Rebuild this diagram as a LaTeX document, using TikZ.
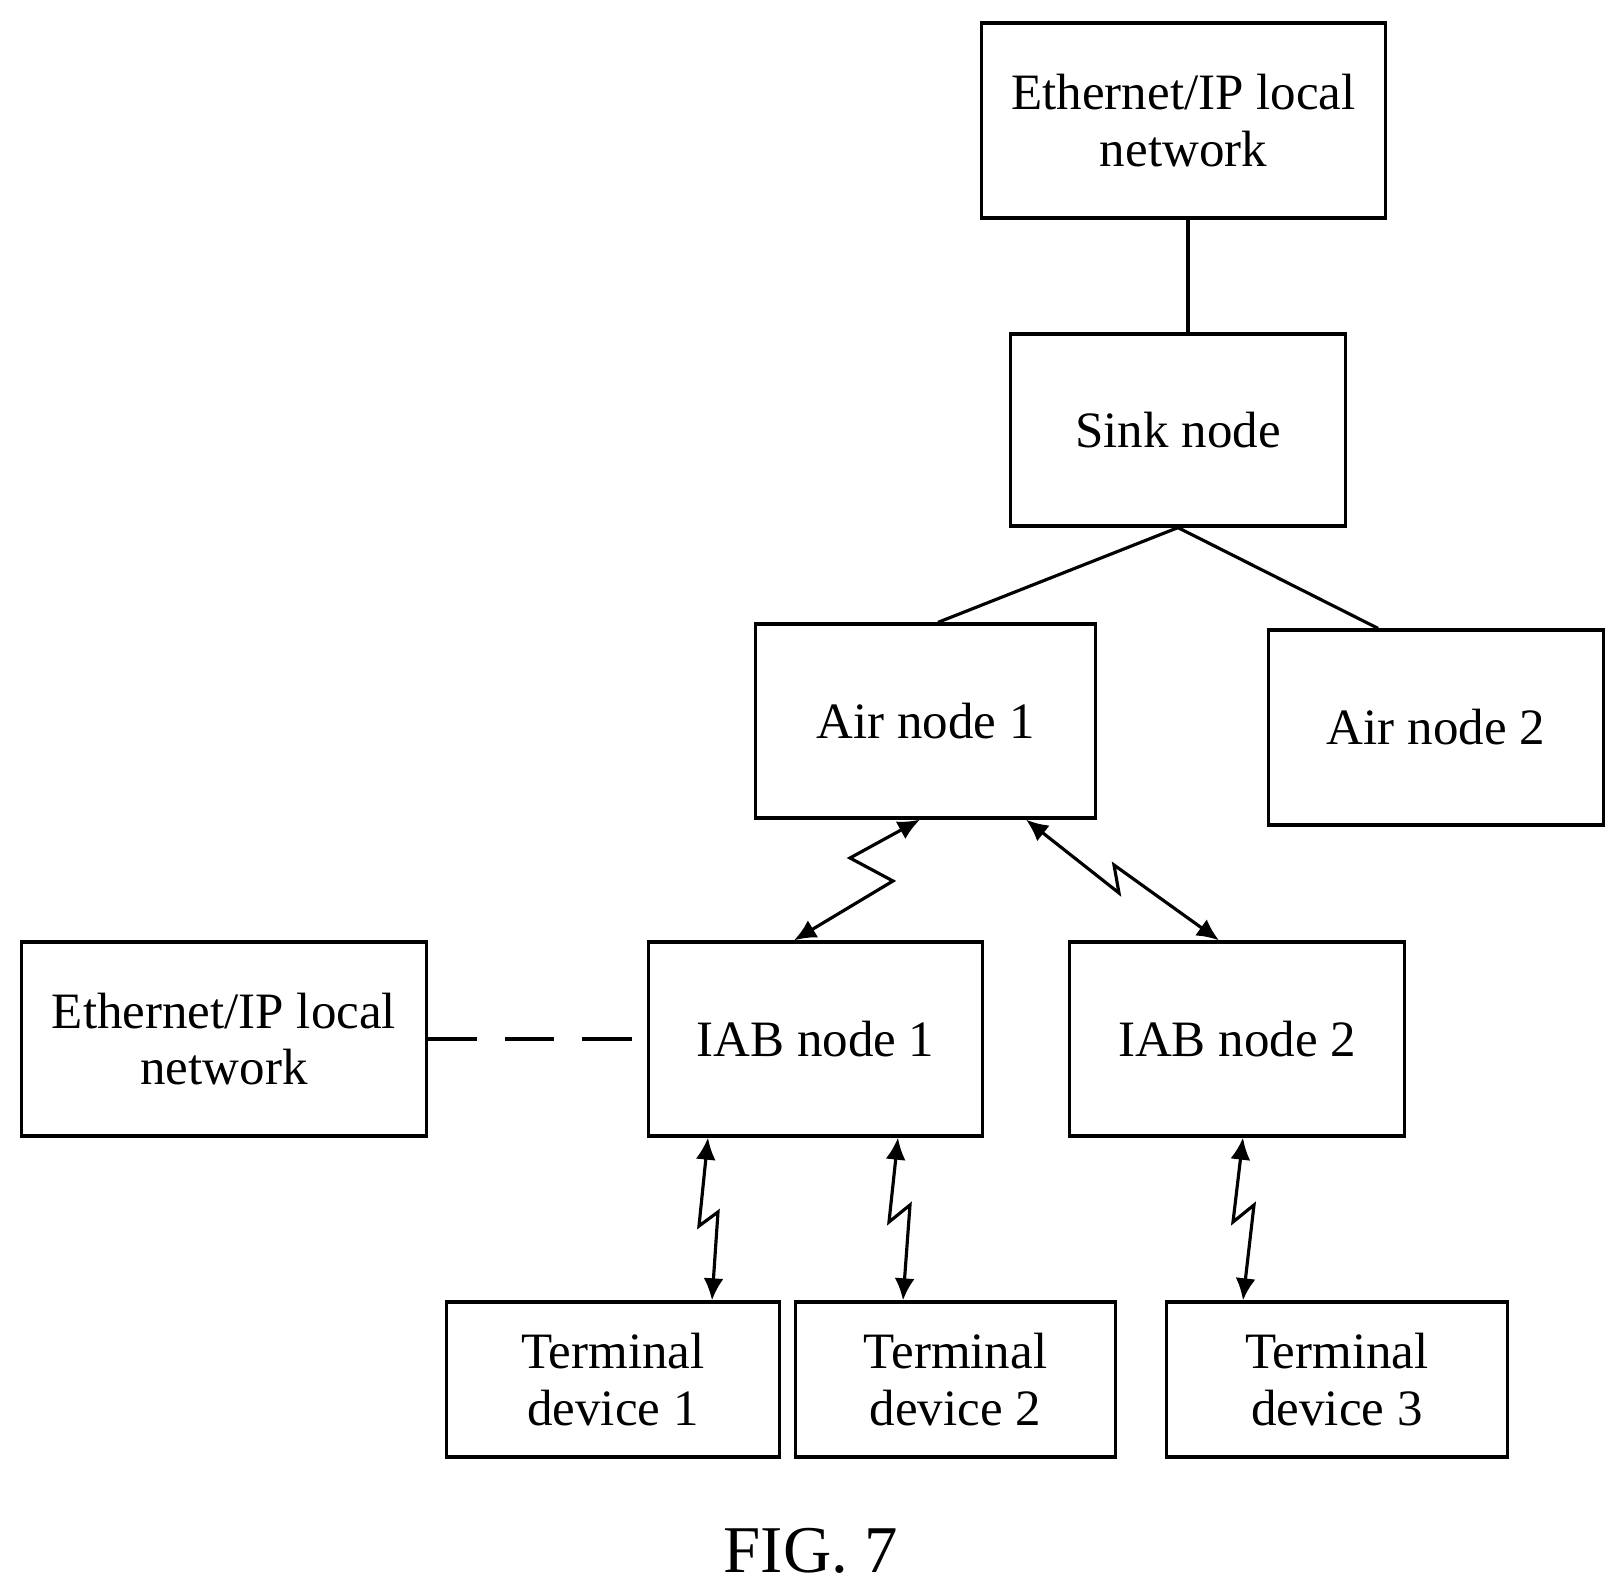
\documentclass[tikz,border=0pt]{standalone}
\usepackage{fontspec}
\setmainfont{Liberation Serif}
\usetikzlibrary{arrows.meta}
\tikzset{
  box/.style={draw, line width=0.9pt, align=center, inner sep=0pt,
    font=\fontsize{14.5}{16}\selectfont},
  link/.style={line width=0.9pt},
  radio/.style={line width=0.9pt, {Latex[length=2.2mm,width=2mm]}-{Latex[length=2.2mm,width=2mm]}}
}
\begin{document}
\begin{tikzpicture}[x=0.01cm, y=-0.01cm]
    \useasboundingbox (0,0) rectangle (1617,1586);

    % Upper part
    \node[box, minimum width=4.03cm, minimum height=1.95cm] (eth1) at (1183.5,120.5) {Ethernet/IP local\\network};
    \node[box, minimum width=3.34cm, minimum height=1.92cm] (sink) at (1178,430) {Sink node};
    \node[box, minimum width=3.39cm, minimum height=1.94cm] (air1) at (925.5,721) {Air node 1};
    \node[box, minimum width=3.34cm, minimum height=1.95cm] (air2) at (1436,727.5) {Air node 2};

    % Middle part
    \node[box, minimum width=4.04cm, minimum height=1.94cm] (eth2) at (224,1039) {Ethernet/IP local\\network};
    \node[box, minimum width=3.33cm, minimum height=1.94cm] (iab1) at (815.5,1039) {IAB node 1};
    \node[box, minimum width=3.34cm, minimum height=1.94cm] (iab2) at (1237,1039) {IAB node 2};

    % Terminals
    \node[box, minimum width=3.32cm, minimum height=1.55cm] (ue1) at (613,1379.5) {Terminal\\device 1};
    \node[box, minimum width=3.19cm, minimum height=1.55cm] (ue2) at (955.5,1379.5) {Terminal\\device 2};
    \node[box, minimum width=3.40cm, minimum height=1.55cm] (ue3) at (1337,1379.5) {Terminal\\device 3};

    % Wired links
    \draw[link] (eth1.south -| 1188,0) -- (sink.north -| 1188,0);
    \draw[link] (sink.south) -- (air1.north -| 938,0);
    \draw[link] (sink.south) -- (air2.north -| 1378,0);
    \draw[link, dash pattern=on 14pt off 8pt] (eth2.east) -- (iab1.west);

    % Radio links
    \draw[radio] (air1.south -| 920,0) -- (850,858) -- (893,881) -- (iab1.north -| 794,0);
    \draw[radio] (air1.south -| 1026,0) -- (1119,893) -- (1114,865) -- (iab2.north -| 1219,0);
    \draw[radio] (iab1.south -| 708,0) -- (699,1226) -- (718,1212) -- (ue1.north -| 712,0);
    \draw[radio] (iab1.south -| 898,0) -- (889,1222) -- (910,1205) -- (ue2.north -| 903,0);
    \draw[radio] (iab2.south -| 1243,0) -- (1233,1222) -- (1254,1205) -- (ue3.north -| 1243,0);

    \node[font=\fontsize{19}{22}\selectfont] (fig) at (811,1551) {FIG. 7};
\end{tikzpicture}
\end{document}
